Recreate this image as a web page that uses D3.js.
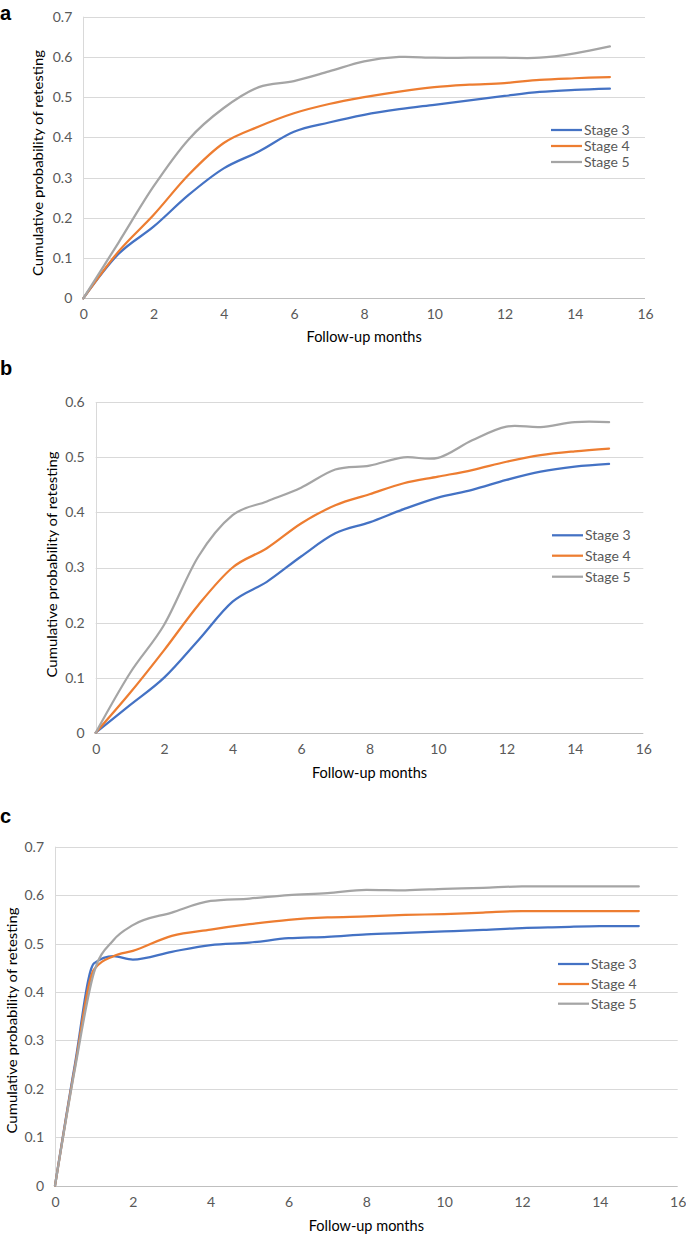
<!DOCTYPE html>
<html><head><meta charset="utf-8">
<script src="https://cdn.jsdelivr.net/npm/d3@7"></script>
<style>body{margin:0;background:#fff}svg{display:block}</style>
</head><body>
<script>
// ---------- data ----------
const months = [0,1,2,3,4,5,6,7,8,9,10,11,12,13,14,15];
const cMonths = [0,0.5,1,1.5,2,3,4,5,6,7,8,9,10,11,12,13,14,15];
const seriesNames = ["Stage 3","Stage 4","Stage 5"];
const xTicks = [0,2,4,6,8,10,12,14,16];

// Panel a
const aStage3 = [0,0.110,0.178,0.257,0.323,0.365,0.414,0.437,0.456,0.470,0.481,0.492,0.503,0.513,0.518,0.521];
const aStage4 = [0,0.116,0.207,0.307,0.386,0.427,0.460,0.483,0.500,0.514,0.525,0.531,0.535,0.543,0.547,0.550];
const aStage5 = [0,0.138,0.278,0.395,0.473,0.525,0.540,0.564,0.589,0.600,0.598,0.598,0.598,0.598,0.609,0.626];
const aYTicks = [0,0.1,0.2,0.3,0.4,0.5,0.6,0.7];

// Panel b
const bStage3 = [0,0.050,0.100,0.168,0.238,0.274,0.320,0.362,0.382,0.406,0.427,0.441,0.459,0.474,0.483,0.488];
const bStage4 = [0,0.072,0.150,0.232,0.300,0.335,0.380,0.413,0.433,0.453,0.465,0.477,0.492,0.504,0.511,0.516];
const bStage5 = [0,0.108,0.196,0.320,0.395,0.420,0.445,0.478,0.485,0.500,0.499,0.531,0.556,0.555,0.564,0.564];
const bYTicks = [0,0.1,0.2,0.3,0.4,0.5,0.6];

// Panel c
const cStage3 = [0,0.245,0.459,0.474,0.467,0.483,0.497,0.502,0.511,0.514,0.519,0.522,0.525,0.528,0.532,0.534,0.536,0.536];
const cStage4 = [0,0.240,0.446,0.474,0.485,0.516,0.529,0.540,0.549,0.554,0.556,0.559,0.561,0.564,0.567,0.567,0.567,0.567];
const cStage5 = [0,0.236,0.440,0.507,0.538,0.564,0.588,0.593,0.600,0.604,0.611,0.610,0.613,0.615,0.618,0.618,0.618,0.618];
const cYTicks = [0,0.1,0.2,0.3,0.4,0.5,0.6,0.7];

const colors = ["#4472C4","#ED7D31","#A5A5A5"];

// ---------- layout ----------
const W = 686, H = 1236;
const svg = d3.select("body").append("svg").attr("width", W).attr("height", H);
const FONT = "Lato, 'Open Sans', sans-serif";

const panels = [
  {letter:"a", letterY:20, left:83.3, right:645, top:16.7, bottom:298.3, yMax:0.7, yTicks:aYTicks,
   xs:months, curve:d3.curveCardinal.tension(0),
   series:[aStage3,aStage4,aStage5], titleY:337, yTitleX:38, yTitleCY:163,
   legX:551, legY:[130,146,162]},
  {letter:"b", letterY:375, left:95.7, right:643.3, top:402.3, bottom:732.7, yMax:0.6, yTicks:bYTicks,
   xs:months, curve:d3.curveCardinal.tension(0),
   series:[bStage3,bStage4,bStage5], titleY:773, yTitleX:52, yTitleCY:564.5,
   legX:552, legY:[535.3,555.7,576.7]},
  {letter:"c", letterY:823, left:55, right:677.7, top:846.7, bottom:1185.7, yMax:0.7, yTicks:cYTicks,
   xs:cMonths, curve:d3.curveMonotoneX,
   series:[cStage3,cStage4,cStage5], titleY:1226, yTitleX:12, yTitleCY:1020.5,
   legX:558, legY:[964,984,1003.7]}
];

panels.forEach(p => {
  const g = svg.append("g");
  const x = d3.scaleLinear().domain([0,16]).range([p.left,p.right]);
  const y = d3.scaleLinear().domain([0,p.yMax]).range([p.bottom,p.top]);

  // gridlines
  g.append("g").selectAll("line").data(p.yTicks.filter(t=>t>0)).join("line")
    .attr("x1",p.left).attr("x2",p.right)
    .attr("y1",d=>Math.round(y(d))+0.5).attr("y2",d=>Math.round(y(d))+0.5)
    .attr("stroke","#D9D9D9").attr("stroke-width",1);
  // vertical axis line
  g.append("line").attr("x1",Math.round(p.left)+0.5).attr("x2",Math.round(p.left)+0.5)
    .attr("y1",p.top).attr("y2",p.bottom).attr("stroke","#D9D9D9");
  // horizontal axis
  g.append("line").attr("x1",p.left).attr("x2",p.right)
    .attr("y1",Math.round(p.bottom)+0.5).attr("y2",Math.round(p.bottom)+0.5)
    .attr("stroke","#BFBFBF");

  // y tick labels
  const yAxis = d3.axisLeft(y).tickValues(p.yTicks).tickSize(0).tickPadding(11)
    .tickFormat(d => d===0 ? "0" : d3.format(".1f")(d));
  const ya = g.append("g").attr("transform",`translate(${p.left},0)`).call(yAxis);
  ya.select(".domain").remove();
  ya.selectAll("text").attr("font-family",FONT).attr("font-size",14).attr("fill","#595959");

  // x tick labels
  const xAxis = d3.axisBottom(x).tickValues(xTicks).tickSize(0).tickPadding(11).tickFormat(d3.format("d"));
  const xa = g.append("g").attr("transform",`translate(0,${p.bottom})`).call(xAxis);
  xa.select(".domain").remove();
  xa.selectAll("text").attr("font-family",FONT).attr("font-size",14).attr("fill","#595959");

  // lines
  const line = d3.line().x((d,i)=>x(p.xs[i])).y(d=>y(d)).curve(p.curve);
  p.series.forEach((s,i) => {
    g.append("path").datum(s).attr("d",line).attr("fill","none")
      .attr("stroke",colors[i]).attr("stroke-width",2.25).attr("stroke-linejoin","round").attr("stroke-linecap","round");
  });

  // legend
  seriesNames.forEach((n,i) => {
    g.append("line").attr("x1",p.legX).attr("x2",p.legX+31)
      .attr("y1",p.legY[i]).attr("y2",p.legY[i]).attr("stroke",colors[i]).attr("stroke-width",2.25);
    g.append("text").attr("x",p.legX+33).attr("y",p.legY[i]).attr("dy","0.35em")
      .attr("font-family",FONT).attr("font-size",14).attr("fill","#595959").text(n);
  });

  // axis titles
  g.append("text").attr("x",(p.left+p.right)/2).attr("y",p.titleY).attr("dy","0.35em")
    .attr("text-anchor","middle").attr("font-family",FONT).attr("font-size",14.5).attr("fill","#000")
    .text("Follow-up months");
  g.append("text").attr("transform",`translate(${p.yTitleX},${p.yTitleCY}) rotate(-90)`)
    .attr("dy","0.35em").attr("text-anchor","middle").attr("font-family",FONT).attr("font-size",14)
    .attr("fill","#000").attr("textLength",226).attr("lengthAdjust","spacingAndGlyphs")
    .text("Cumulative probability of retesting");

  // panel letter
  svg.append("text").attr("x",0).attr("y",p.letterY).attr("font-family","'Liberation Sans', Arial, sans-serif")
    .attr("font-weight","bold").attr("font-size",20).attr("fill","#000").text(p.letter);
});
</script>
</body></html>
